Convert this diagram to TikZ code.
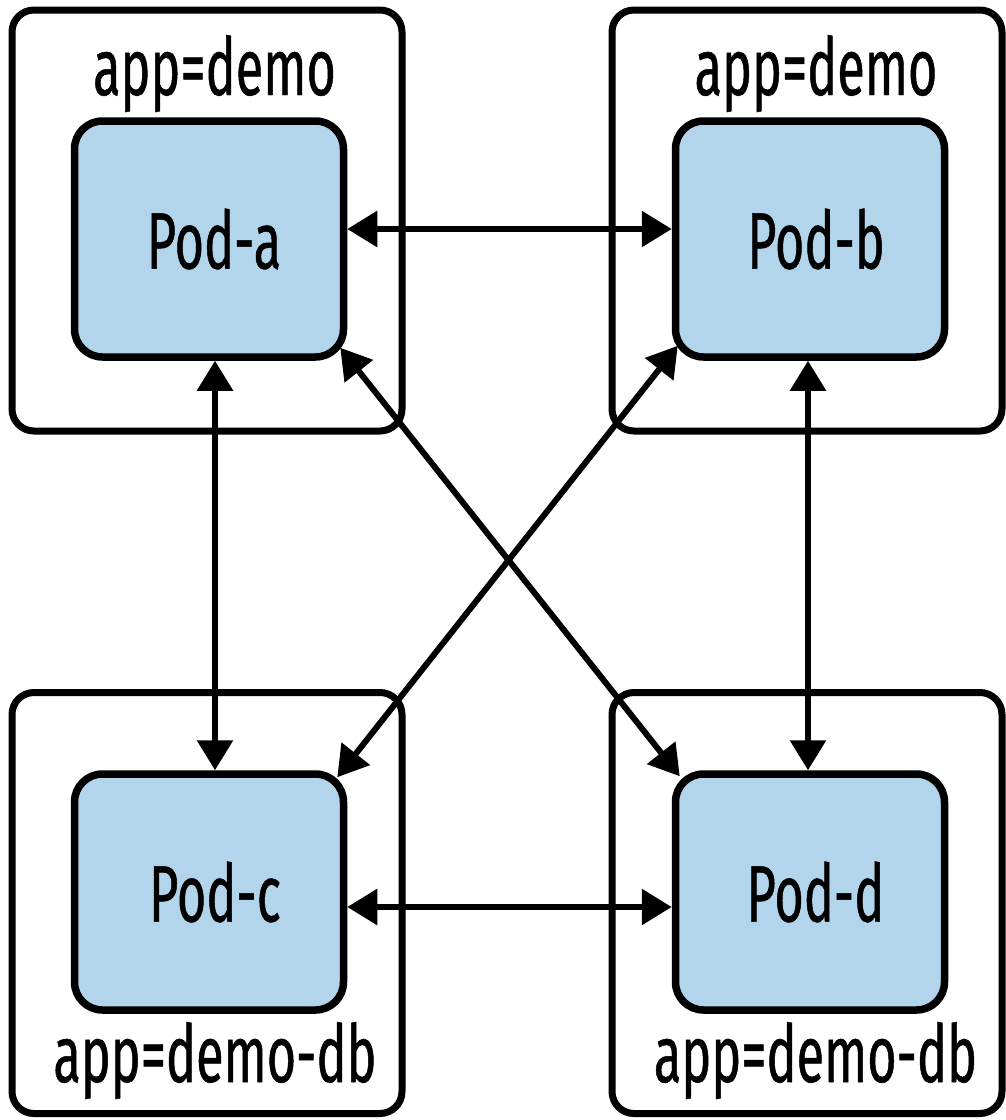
\documentclass[tikz,border=0pt]{standalone}
\usepackage{fontspec}
\setmainfont[FakeStretch=0.63,FakeBold=0.6]{Fira Sans}
\usetikzlibrary{arrows.meta,calc}
\definecolor{podblue}{RGB}{179,213,236}
\begin{document}
\begin{tikzpicture}[x=1pt,y=-1pt,
  group/.style={draw,line width=7pt,rounded corners=22pt,minimum width=390pt,minimum height=421pt,inner sep=0pt},
  pod/.style={draw,line width=7.5pt,fill=podblue,rounded corners=28pt,minimum width=269pt,minimum height=236pt,inner sep=0pt,font=\fontsize{80}{96}\selectfont},
  lbl/.style={font=\fontsize{80}{96}\selectfont,inner sep=0pt,anchor=base},
  link/.style={line width=6pt,{Triangle[length=30pt,width=35pt]}-{Triangle[length=30pt,width=35pt]}}]
\useasboundingbox (0,0) rectangle (1006,1120);
% groups
\node[group] (gA) at (207,220.5) {};
\node[group] (gB) at (807,220.5) {};
\node[group] (gC) at (207,903) {};
\node[group] (gD) at (807,903) {};
% group labels
\node[lbl] (lA) at (214.5,95) {app=demo};
\node[lbl] (lB) at (816,95) {app=demo};
\node[lbl] (lC) at (215,1082) {app=demo-db};
\node[lbl] (lD) at (815.5,1082) {app=demo-db};
% pods
\node[pod] (a) at (209,239) {\hspace*{10pt}Pod-a};
\node[pod] (b) at (810,239) {\hspace*{12pt}Pod-b};
\node[pod] (c) at (209,892) {\hspace*{12pt}Pod-c};
\node[pod] (d) at (810,892) {\hspace*{11pt}Pod-d};
% links
\draw[link] ($(a.east)+(0,-10)$) -- ($(b.west)+(0,-10)$);
\draw[link] ($(c.east)+(0,15)$) -- ($(d.west)+(0,15)$);
\draw[link] ($(a.south)+(6,0)$) -- ($(c.north)+(6,0)$);
\draw[link] ($(b.south)+(-2,0)$) -- ($(d.north)+(-2,0)$);
\draw[link] ($(a.south east)+(-7,-13)$) -- ($(d.north west)+(8,6)$);
\draw[link] ($(b.south west)+(6,-15)$) -- ($(c.north east)+(-10,7)$);
\end{tikzpicture}
\end{document}
